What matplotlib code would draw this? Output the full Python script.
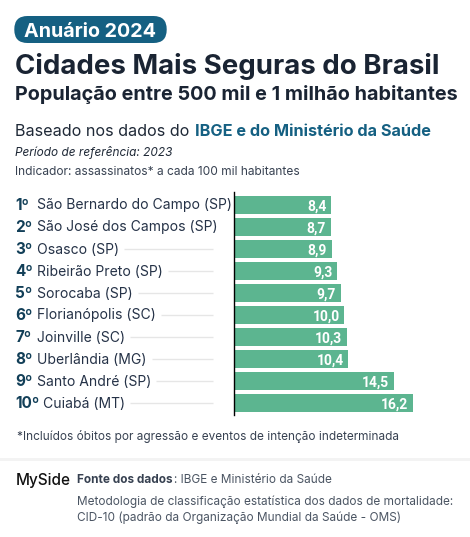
import matplotlib
matplotlib.use("Agg")
import matplotlib.pyplot as plt
from matplotlib.patches import FancyBboxPatch, Rectangle

ranks = ["1º", "2º", "3º", "4º", "5º", "6º", "7º", "8º", "9º", "10º"]
cities = ["São Bernardo do Campo (SP)", "São José dos Campos (SP)", "Osasco (SP)",
          "Ribeirão Preto (SP)", "Sorocaba (SP)", "Florianópolis (SC)", "Joinville (SC)",
          "Uberlândia (MG)", "Santo André (SP)", "Cuiabá (MT)"]
# Printed labels, and the bar lengths as actually drawn in the picture (they differ slightly)
value_labels = ["8,4", "8,7", "8,9", "9,3", "9,7", "10,0", "10,3", "10,4", "14,5", "16,2"]
bar_lengths = [8.77, 8.77, 8.86, 9.31, 9.67, 10.0, 10.22, 10.36, 14.5, 16.2]

W, H = 470, 537
plt.rcParams["font.family"] = ["Inter", "DejaVu Sans"]
fig = plt.figure(figsize=(W / 100, H / 100), dpi=100, facecolor="white")

bg = fig.add_axes([0, 0, 1, 1])
bg.set_xlim(0, W)
bg.set_ylim(H, 0)
bg.axis("off")

DARK = "#1a2433"
BLUE = "#156082"
GREEN = "#5cb590"
GREY = "#4b5563"


def T(x, y, s, size, color=DARK, weight="normal", style="normal", ha="left"):
    return bg.text(x, y, s, fontsize=size, color=color, weight=weight, style=style,
                   ha=ha, va="baseline")


# Header
bg.add_patch(FancyBboxPatch((27.5, 29.2), 126, 0.6, boxstyle="round,pad=13.2,rounding_size=13.2",
                            fc=BLUE, ec="none"))
T(23.5, 36.8, "Anuário 2024", 14.2, "white", "bold")
T(15, 73.5, "Cidades Mais Seguras do Brasil", 19.9, DARK, "bold")
T(15, 99.5, "População entre 500 mil e 1 milhão habitantes", 14.25, DARK, "bold")
T(15, 136, "Baseado nos dados do", 11.6, "#1f2937")
T(195, 136, "IBGE e do Ministério da Saúde", 11.7, BLUE, "bold")
T(15, 156, "Período de referência: 2023", 8.5, "#1f2937", style="italic")
T(15, 175, "Indicador: assassinatos* a cada 100 mil habitantes", 8.6, "#374151")

# Bars
x0, y_top, y_bot = 234, 192, 415
ax = fig.add_axes([x0 / W, 1 - y_bot / H, (W - x0) / W, (y_bot - y_top) / H])
ax.set_xlim(0, (W - x0) / 11.03)
ax.set_ylim((y_bot - 205) / 22, (y_top - 205) / 22)
ax.patch.set_alpha(0)
y = list(range(len(bar_lengths)))
ax.barh(y, bar_lengths, height=18 / 22, color=GREEN, edgecolor="none")
for s in ["top", "right", "bottom"]:
    ax.spines[s].set_visible(False)
ax.spines["left"].set_color("black")
ax.spines["left"].set_linewidth(1.0)
ax.set_xticks([])
ax.set_yticks([])
for i, (v, lab) in enumerate(zip(bar_lengths, value_labels)):
    ax.text(v - 0.41, i + 0.25, lab, color="white", fontsize=10,
            weight="bold", ha="right", va="baseline", family="Roboto")

# Row labels and leader lines
fig.canvas.draw()
rend = fig.canvas.get_renderer()
for i, (r, c) in enumerate(zip(ranks, cities)):
    yb = 205 + 22 * i
    T(15.5, yb + 4.5, r, 11, "#123f58", "bold")
    tx = T(43 if r == "10º" else 37, yb + 4.5, c, 10.05, "#253247")
    end = tx.get_window_extent(rend).x1
    if end + 5 < 213:
        bg.plot([end + 5, 213], [yb - 0.5, yb - 0.5], color="#e6e6e6", lw=1, solid_capstyle="butt")

# Footer
T(17, 440, "*Incluídos óbitos por agressão e eventos de intenção indeterminada", 8.5, "#374151")
bg.add_patch(Rectangle((0, 458), W, 2.5, fc="#f3f3f3", ec="none"))
T(16, 484.5, "MySide", 11, "#111111", "medium")
T(77, 483, "Fonte dos dados", 8.5, "#374151", "bold")
T(174, 483, ": IBGE e Ministério da Saúde", 8.5, "#4b5563")
T(77, 505, "Metodologia de classificação estatística dos dados de mortalidade:", 8.5, GREY)
T(77, 521, "CID-10 (padrão da Organização Mundial da Saúde - OMS)", 8.5, GREY)

fig.savefig("out.png", dpi=100)
